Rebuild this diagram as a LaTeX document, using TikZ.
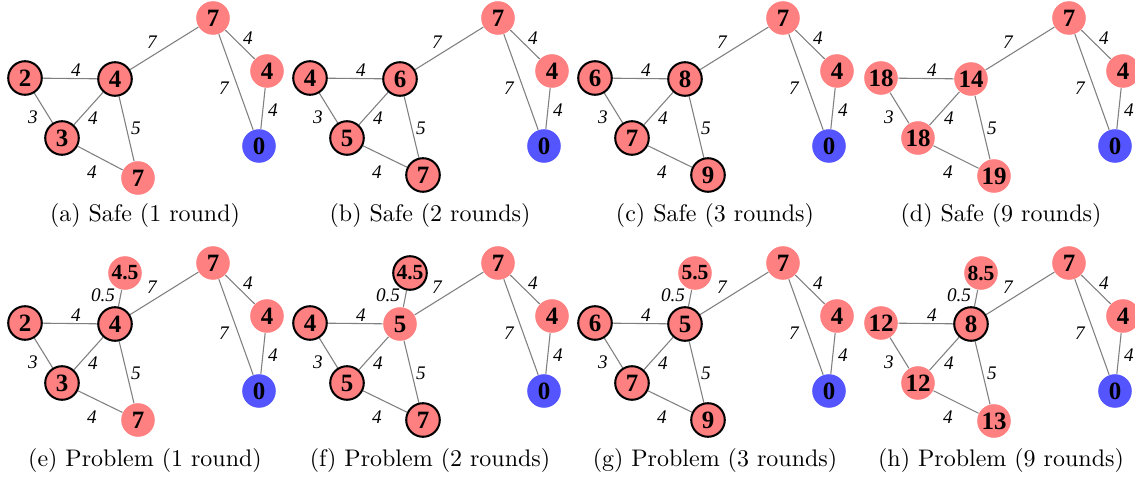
\documentclass[tikz,border=0pt]{standalone}
\usepackage{fontspec}
\newfontfamily\graphfont{Liberation Serif}
\usetikzlibrary{backgrounds}
\definecolor{nodepink}{RGB}{255,128,128}
\definecolor{srcblue}{RGB}{85,85,255}
\definecolor{edgegray}{RGB}{128,128,128}
\tikzset{
  vtx/.style={circle, fill=nodepink, minimum size=14pt, inner sep=0pt,
    font=\graphfont\fontsize{10.4}{11}\selectfont\bfseries},
  hl/.style={draw=black, line width=0.85pt},
  src/.style={fill=srcblue},
  half/.style={font=\graphfont\fontsize{9}{10}\selectfont\bfseries},
  edge/.style={draw=edgegray, line width=0.45pt},
  elab/.style={font=\graphfont\fontsize{8}{9}\selectfont\itshape, inner sep=0pt},
  captxt/.style={font=\fontsize{10}{12}\selectfont, inner sep=0pt},
}
\newcommand\panelcommon[1]{%
  \node[vtx] (P) at (213,18) {7};
  \node[vtx] (R) at (267,71) {4};
  \node[vtx,src] (Z) at (259,146) {0};
  \begin{scope}[on background layer]
    \draw[edge] (L) -- (M);
    \draw[edge] (M) -- (P);
    \draw[edge] (P) -- (R);
    \draw[edge] (P) -- (Z);
    \draw[edge] (R) -- (Z);
    \draw[edge] (L) -- (B);
    \draw[edge] (B) -- (M);
    \draw[edge] (M) -- (T);
    \draw[edge] (B) -- (T);
  \end{scope}
  \node[elab] (lMP) at (152,42) {7};
  \node[elab] (lPR) at (248,38) {4};
  \node[elab] (lPZ) at (224,88) {7};
  \node[elab] (lRZ) at (273,110) {4};
  \node[elab] (lLM) at (76,70) {4};
  \node[elab] (lLB) at (33,117) {3};
  \node[elab] (lBM) at (93,118) {4};
  \node[elab] (lMT) at (136,128) {5};
  \node[elab] (lBT) at (92,172) {4};
  \node[captxt] (captionnode) at (145,216) {#1};
}
\newcommand\extraedge{%
  \begin{scope}[on background layer]
    \draw[edge] (X) -- (M);
  \end{scope}
  \node[elab] (lXM) at (103,50) {0.5};
}
\begin{document}
\begin{tikzpicture}[x=0.417pt, y=-0.417pt]
\useasboundingbox (0,0) rectangle (1135,479);
% (a)
\begin{scope}[shift={(0,0)}, name prefix=a-]
  \node[vtx,hl] (L) at (25,78) {2};
  \node[vtx,hl] (M) at (115,79) {4};
  \node[vtx,hl] (B) at (62,138) {3};
  \node[vtx] (T) at (138,178) {7};
  \panelcommon{(a) Safe (1 round)}
\end{scope}
% (b)
\begin{scope}[shift={(285,0)}, name prefix=b-]
  \node[vtx,hl] (L) at (25,78) {4};
  \node[vtx,hl] (M) at (115,79) {6};
  \node[vtx,hl] (B) at (62,138) {5};
  \node[vtx,hl] (T) at (138,175) {7};
  \panelcommon{(b) Safe (2 rounds)}
\end{scope}
% (c)
\begin{scope}[shift={(570,0)}, name prefix=c-]
  \node[vtx,hl] (L) at (25,78) {6};
  \node[vtx,hl] (M) at (115,79) {8};
  \node[vtx,hl] (B) at (62,138) {7};
  \node[vtx,hl] (T) at (138,175) {9};
  \panelcommon{(c) Safe (3 rounds)}
\end{scope}
% (d)
\begin{scope}[shift={(856,0)}, name prefix=d-]
  \node[vtx] (L) at (25,78) {18};
  \node[vtx] (M) at (115,79) {14};
  \node[vtx] (B) at (62,138) {18};
  \node[vtx] (T) at (138,176) {19};
  \panelcommon{(d) Safe (9 rounds)}
\end{scope}
% (e)
\begin{scope}[shift={(0,245)}, name prefix=e-]
  \node[vtx,hl] (L) at (25,78) {2};
  \node[vtx,hl] (M) at (115,79) {4};
  \node[vtx,hl] (B) at (62,138) {3};
  \node[vtx] (T) at (138,175) {7};
  \node[vtx,half] (X) at (125,28) {4.5};
  \panelcommon{(e) Problem (1 round)}
  \extraedge
\end{scope}
% (f)
\begin{scope}[shift={(285,245)}, name prefix=f-]
  \node[vtx,hl] (L) at (25,78) {4};
  \node[vtx] (M) at (115,79) {5};
  \node[vtx,hl] (B) at (62,138) {5};
  \node[vtx,hl] (T) at (138,175) {7};
  \node[vtx,half,hl] (X) at (125,28) {4.5};
  \panelcommon{(f) Problem (2 rounds)}
  \extraedge
\end{scope}
% (g)
\begin{scope}[shift={(570,245)}, name prefix=g-]
  \node[vtx,hl] (L) at (25,78) {6};
  \node[vtx,hl] (M) at (115,79) {5};
  \node[vtx,hl] (B) at (62,138) {7};
  \node[vtx,hl] (T) at (138,175) {9};
  \node[vtx,half] (X) at (125,28) {5.5};
  \panelcommon{(g) Problem (3 rounds)}
  \extraedge
\end{scope}
% (h)
\begin{scope}[shift={(856,245)}, name prefix=h-]
  \node[vtx] (L) at (25,78) {12};
  \node[vtx,hl] (M) at (115,79) {8};
  \node[vtx] (B) at (62,138) {12};
  \node[vtx] (T) at (138,176) {13};
  \node[vtx,half] (X) at (125,28) {8.5};
  \panelcommon{(h) Problem (9 rounds)}
  \extraedge
\end{scope}
\end{tikzpicture}
\end{document}
